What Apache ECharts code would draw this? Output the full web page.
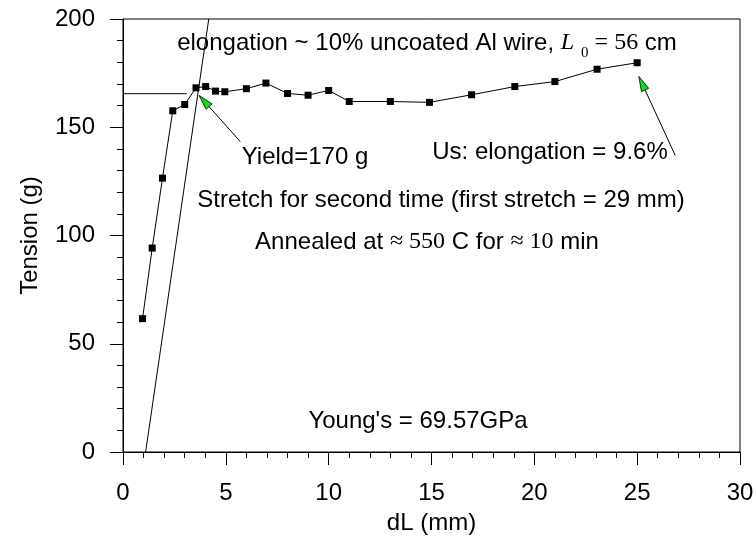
<!DOCTYPE html>
<html>
<head>
<meta charset="utf-8">
<script src="https://cdn.jsdelivr.net/npm/echarts@6/dist/echarts.min.js"></script>
<style>
  html, body { margin: 0; padding: 0; background: #fff; }
  #chart { width: 756px; height: 538px; }
</style>
</head>
<body>
<div id="chart"></div>
<script>
// Stretch measurements: elongation dL (mm) vs tension (g)
const dL = [0.95, 1.42, 1.92, 2.42, 3.0, 3.55, 4.02, 4.5, 4.95, 6.0, 6.95, 8.0, 9.0, 10.0, 11.0, 13.0, 14.9, 16.95, 19.05, 21.0, 23.05, 25.0];
const tension = [61.6, 94.2, 126.5, 157.6, 160.5, 168.2, 168.8, 166.7, 166.4, 167.8, 170.4, 165.6, 164.8, 167.0, 161.9, 161.9, 161.5, 165.0, 168.8, 171.1, 176.8, 179.8];

// Linear elastic fit (Young's modulus line)
const youngX = [1.1, 4.17];
const youngT = [0, 200];

// Yield level guide
const yieldX = [0, 3.1];
const yieldT = [165.5, 165.5];

// Annotation arrows: [tailX, tailT, tipX, tipT]
const yieldArrow = [5.7, 143.4, 3.7, 164.7];
const usArrow = [26.85, 137.0, 25.08, 173.5];

// Axis ticks
const xTicks = [0, 5, 10, 15, 20, 25, 30];
const yTicks = [0, 50, 100, 150, 200];

const FONT = 'Liberation Sans, Arial, sans-serif';
const SERIF = 'Liberation Serif, Times New Roman, serif';
const FS = 24;

const chart = echarts.init(document.getElementById('chart'), null, { renderer: 'canvas' });

const zip = (a, b) => a.map((v, i) => [v, b[i]]);

chart.setOption({
  animation: false,
  backgroundColor: '#fff',
  grid: {
    left: 123, right: 16, top: 19, bottom: 86,
    containLabel: false, outerBoundsMode: 'none',
    show: true, borderColor: '#000', borderWidth: 1, backgroundColor: 'transparent'
  },
  xAxis: {
    type: 'value',
    min: xTicks[0], max: xTicks[xTicks.length - 1], interval: 5,
    name: 'dL (mm)', nameLocation: 'middle', nameGap: 59,
    nameTextStyle: { fontFamily: FONT, fontSize: FS, color: '#000' },
    axisLine: { lineStyle: { color: '#000', width: 1 } },
    axisTick: { show: true, inside: false, length: 13, lineStyle: { color: '#000' } },
    minorTick: { show: true, splitNumber: 5, length: 6, lineStyle: { color: '#000' } },
    axisLabel: { margin: 29, fontFamily: FONT, fontSize: FS, color: '#000' },
    splitLine: { show: false }
  },
  yAxis: {
    type: 'value',
    min: yTicks[0], max: yTicks[yTicks.length - 1], interval: 50,
    name: 'Tension (g)', nameLocation: 'middle', nameGap: 81,
    nameTextStyle: { fontFamily: FONT, fontSize: FS, color: '#000' },
    axisLine: { lineStyle: { color: '#000', width: 1 } },
    axisTick: { show: true, inside: false, length: 13, lineStyle: { color: '#000' } },
    minorTick: { show: true, splitNumber: 5, length: 6, lineStyle: { color: '#000' } },
    axisLabel: { margin: 28, fontFamily: FONT, fontSize: FS, color: '#000' },
    splitLine: { show: false }
  },
  series: [
    {
      type: 'line', data: zip(youngX, youngT), symbol: 'none',
      lineStyle: { color: '#000', width: 1 }, silent: true
    },
    {
      type: 'line', data: zip(yieldX, yieldT), symbol: 'none',
      lineStyle: { color: '#000', width: 1 }, silent: true
    },
    {
      type: 'line', data: zip(dL, tension),
      symbol: 'rect', symbolSize: 7,
      itemStyle: { color: '#000' },
      lineStyle: { color: '#000', width: 1 }
    }
  ]
});

// Arrow annotations and text labels
function arrow(spec) {
  const tail = chart.convertToPixel({ gridIndex: 0 }, [spec[0], spec[1]]);
  const tip = chart.convertToPixel({ gridIndex: 0 }, [spec[2], spec[3]]);
  const dx = tip[0] - tail[0], dy = tip[1] - tail[1];
  const len = Math.sqrt(dx * dx + dy * dy);
  const ux = dx / len, uy = dy / len;
  const headLen = 15, headW = 8;
  const bx = tip[0] - ux * headLen, by = tip[1] - uy * headLen;
  const nx = -uy, ny = ux;
  return [
    { type: 'line', shape: { x1: tail[0], y1: tail[1], x2: bx, y2: by },
      style: { stroke: '#000', lineWidth: 1 } },
    { type: 'polygon', shape: { points: [
        [tip[0], tip[1]],
        [bx + nx * headW / 2, by + ny * headW / 2],
        [bx - nx * headW / 2, by - ny * headW / 2]
      ] },
      style: { fill: '#11dd11', stroke: '#000', lineWidth: 0.8 } }
  ];
}

function label(text, x, y, extra) {
  return Object.assign({
    type: 'text', x: x, y: y,
    style: { text: text, fontFamily: FONT, fontSize: FS, fill: '#000',
             textAlign: 'center', textVerticalAlign: 'middle' }
  }, extra || {});
}

const graphics = [].concat(
  arrow(yieldArrow),
  arrow(usArrow),
  [
    {
      type: 'text', x: 427, y: 43,
      style: {
        text: '{a|elongation ~ 10% uncoated Al wire, }{L|L}{sub|0}{s| = 56}{a| cm}',
        textAlign: 'center', textVerticalAlign: 'middle',
        rich: {
          a: { fontFamily: FONT, fontSize: FS, fill: '#000', lineHeight: 36, verticalAlign: 'middle' },
          L: { fontFamily: SERIF, fontStyle: 'italic', fontSize: FS, fill: '#000', lineHeight: 36, verticalAlign: 'middle', padding: [0, 7, 0, 0] },
          sub: { fontFamily: SERIF, fontSize: 15, fill: '#000', lineHeight: 15, verticalAlign: 'bottom' },
          s: { fontFamily: SERIF, fontSize: FS, fill: '#000', lineHeight: 36, verticalAlign: 'middle' }
        }
      }
    },
    label('Yield=170 g', 305, 157),
    label('Us: elongation = 9.6%', 550, 152),
    label('Stretch for second time (first stretch = 29 mm)', 441, 200),
    {
      type: 'text', x: 427, y: 242,
      style: {
        text: '{a|Annealed at }{s|\u2248 550}{a| C for }{s|\u2248 10}{a| min}',
        textAlign: 'center', textVerticalAlign: 'middle',
        rich: {
          a: { fontFamily: FONT, fontSize: FS, fill: '#000' },
          s: { fontFamily: SERIF, fontSize: FS, fill: '#000' }
        }
      }
    },
    label("Young's = 69.57GPa", 418, 421)
  ]
);

chart.setOption({ graphic: graphics });
</script>
</body>
</html>
